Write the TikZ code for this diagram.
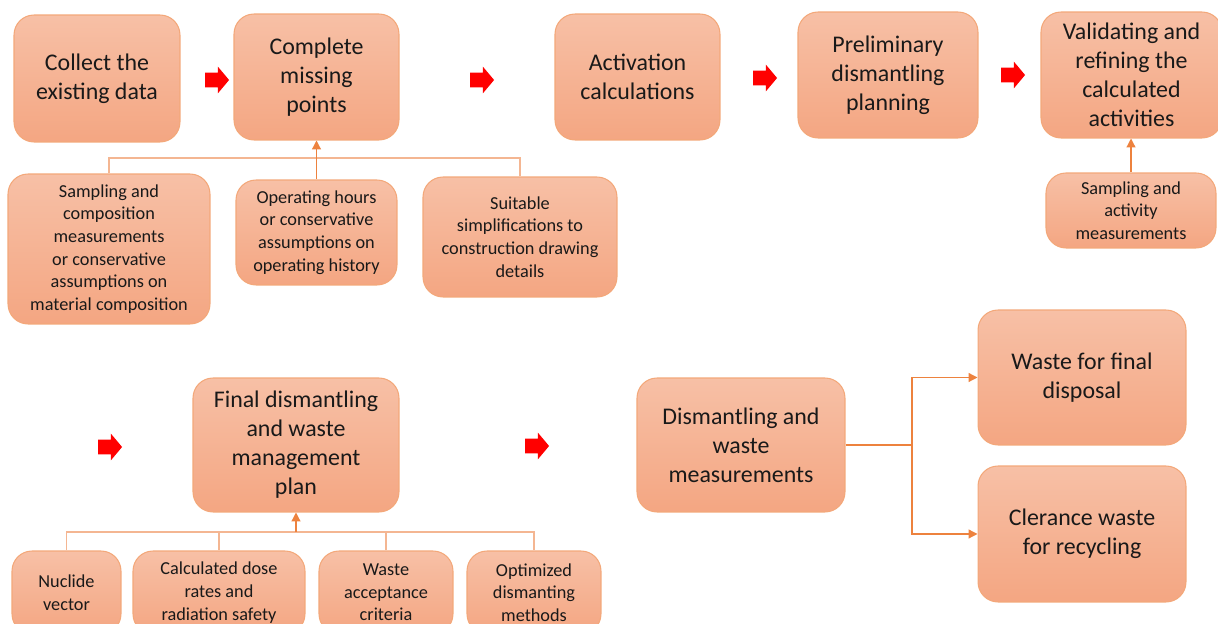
\documentclass[tikz,border=0pt]{standalone}
\usepackage{fontspec}
\setmainfont{Carlito}
\usepackage{xcolor}
\usepackage{tikz}
\usetikzlibrary{arrows.meta,shapes.arrows}

\definecolor{boxtop}{RGB}{247,192,166}
\definecolor{boxbot}{RGB}{244,166,130}
\definecolor{boxline}{RGB}{243,168,122}
\definecolor{linkline}{RGB}{244,182,146}
\definecolor{linkarrow}{RGB}{237,130,62}

\begin{document}
\begin{tikzpicture}[x=0.02cm, y=-0.02cm,
    box/.style={rectangle, rounded corners=0.4cm, draw=boxline, line width=0.6pt, top color=boxtop, bottom color=boxbot, align=center, inner sep=2pt, text=black!90},
    bigbox/.style={box, font=\fontsize{13.6}{16.5}\selectfont},
    smallbox/.style={box, font=\fontsize{10.4}{12.9}\selectfont},
    redarrow/.style={single arrow, fill=red, draw=none, inner xsep=0.05cm, inner ysep=0.14cm, minimum height=0.48cm, single arrow head extend=0.12cm, single arrow tip angle=100},
    link/.style={draw=linkline, line width=0.7pt},
    uplink/.style={draw=linkarrow, line width=0.7pt, -{Triangle[length=5pt,width=5pt]}}]
                    \useasboundingbox (0,0) rectangle (1218,624);
                    % Nodes
                    \node[bigbox, minimum width=3.32cm, minimum height=2.54cm] (collect) at (97,78.5) {Collect the\\existing data};
                    \node[bigbox, minimum width=3.30cm, minimum height=2.52cm] (complete) at (316.5,77) {Complete\\missing\\points};
                    \node[bigbox, minimum width=3.30cm, minimum height=2.52cm] (activation) at (637.5,77) {Activation\\calculations};
                    \node[bigbox, minimum width=3.60cm, minimum height=2.52cm] (preliminary) at (888,75) {Preliminary\\dismantling\\planning};
                    \node[bigbox, minimum width=3.62cm, minimum height=2.52cm] (validating) at (1131.5,75) {Validating and\\refining the\\calculated\\activities};
                    \node[smallbox, minimum width=3.40cm, minimum height=1.50cm] (sampact) at (1131,210.5) {Sampling and\\activity\\measurements};

                    \node[smallbox, minimum width=4.04cm, minimum height=3.00cm] (sampcomp) at (109,249) {Sampling and\\composition\\measurements\\or conservative\\assumptions on\\material composition};
                    \node[smallbox, minimum width=3.22cm, minimum height=2.10cm] (operating) at (316.5,232.5) {Operating hours\\or conservative\\assumptions on\\operating history};
                    \node[smallbox, minimum width=3.88cm, minimum height=2.40cm] (suitable) at (520,237) {Suitable\\simplifications to\\construction drawing\\details};

                    \node[bigbox, minimum width=4.12cm, minimum height=2.68cm] (final) at (296,445) {Final dismantling\\and waste\\management\\plan};
                    \node[smallbox, minimum width=2.18cm, minimum height=1.66cm] (nuclide) at (66.5,592.5) {Nuclide\\vector};
                    \node[smallbox, minimum width=3.44cm, minimum height=1.66cm] (dose) at (219,592.5) {Calculated dose\\rates and\\radiation safety};
                    \node[smallbox, minimum width=2.68cm, minimum height=1.66cm] (wasteacc) at (386,592.5) {Waste\\acceptance\\criteria};
                    \node[smallbox, minimum width=2.68cm, minimum height=1.66cm] (optimized) at (534,592.5) {Optimized\\dismanting\\methods};

                    \node[bigbox, minimum width=4.16cm, minimum height=2.68cm] (dism) at (741,445) {Dismantling and\\waste\\measurements};
                    \node[bigbox, minimum width=4.16cm, minimum height=2.70cm] (wastefinal) at (1082,377.5) {Waste for final\\disposal};
                    \node[bigbox, minimum width=4.16cm, minimum height=2.72cm] (clearance) at (1082,534) {Clerance waste\\for recycling};

                    % Step arrows
                    \node[redarrow] (step1) at (214,80) {};
                    \node[redarrow] (step2) at (479,80) {};
                    \node[redarrow] (step3) at (762,78) {};
                    \node[redarrow] (step4) at (1010,75) {};
                    \node[redarrow] (step5) at (107,447) {};
                    \node[redarrow] (step6) at (534,446) {};

                    % Joints
                    \coordinate (jtop) at (316.5,158);
                    \coordinate (jbot) at (296,532);
                    \coordinate (jdism) at (912,445);

                    % Edges
                    \draw[link] (sampcomp.north) |- (jtop);
                    \draw[link] (suitable.north) |- (jtop);
                    \draw[uplink] (operating.north) -- (complete.south);

                    \draw[uplink] (sampact.north) -- (sampact.north |- validating.south);

                    \draw[link] (nuclide.north) |- (jbot);
                    \draw[link] (dose.north) |- (jbot);
                    \draw[link] (wasteacc.north) |- (jbot);
                    \draw[link] (optimized.north) |- (jbot);
                    \draw[uplink] (jbot) -- (final.south);

                    \draw[uplink] (dism.east) -- (jdism) |- (wastefinal.west);
                    \draw[uplink] (jdism) |- (clearance.west);
                \end{tikzpicture}
\end{document}
